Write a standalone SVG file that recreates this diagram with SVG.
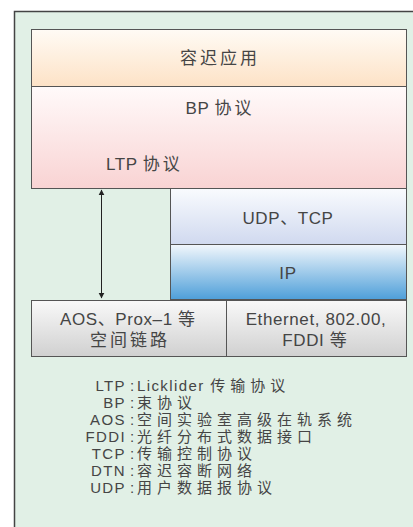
<svg xmlns="http://www.w3.org/2000/svg" width="413" height="527" viewBox="0 0 413 527">
<style>
.t{font-family:"Liberation Sans","Noto Sans CJK SC",sans-serif;font-size:17px;fill:#454545;letter-spacing:0.6px}
.c{letter-spacing:3px}
.l{font-family:"Liberation Sans","Noto Sans CJK SC",sans-serif;font-size:15px;fill:#454545;letter-spacing:1.4px}
.lc{letter-spacing:5px}
.box{stroke:#555;stroke-width:1}
</style>
<defs>
<linearGradient id="gApp" x1="0" y1="0" x2="0" y2="1"><stop offset="0" stop-color="#fffbf5"/><stop offset="1" stop-color="#fde2c6"/></linearGradient>
<linearGradient id="gBP" x1="0" y1="0" x2="0" y2="1"><stop offset="0" stop-color="#fffafa"/><stop offset="1" stop-color="#f9d3d3"/></linearGradient>
<linearGradient id="gUDP" x1="0" y1="0" x2="0" y2="1"><stop offset="0" stop-color="#f9fbfe"/><stop offset="1" stop-color="#d0d9ef"/></linearGradient>
<linearGradient id="gIP" x1="0" y1="0" x2="0" y2="1"><stop offset="0" stop-color="#f2f7fc"/><stop offset="1" stop-color="#4e9fd9"/></linearGradient>
<linearGradient id="gLink" x1="0" y1="0" x2="0" y2="1"><stop offset="0" stop-color="#f9f9f9"/><stop offset="1" stop-color="#d0d0d0"/></linearGradient>
<marker id="ah" viewBox="0 0 10 10" refX="9" refY="5" markerWidth="6" markerHeight="7" orient="auto-start-reverse" markerUnits="userSpaceOnUse"><path d="M0,0 L10,5 L0,10 z" fill="#222"/></marker>
</defs>
<rect x="0" y="0" width="413" height="527" fill="#fff"/>
<rect x="14.5" y="11.5" width="410" height="520" fill="#e1f0e6"/>
<path d="M14.5,530 V11.5 H416" fill="none" stroke="#444" stroke-width="1.5"/>

<g id="app">
<rect class="box" x="31.5" y="29.5" width="375" height="57" fill="url(#gApp)"/>
<text class="t c" x="220" y="64" text-anchor="middle">容迟应用</text>
</g>
<g id="bp">
<rect class="box" x="31.5" y="86.5" width="375" height="102" fill="url(#gBP)"/>
<text class="t" x="220" y="114" text-anchor="middle">BP <tspan class="c">协议</tspan></text>
<text class="t" x="106" y="170">LTP <tspan class="c">协议</tspan></text>
</g>
<g id="udp">
<rect class="box" x="170.5" y="188.5" width="236" height="56" fill="url(#gUDP)"/>
<text class="t" x="288" y="224" text-anchor="middle">UDP、TCP</text>
</g>
<g id="ip">
<rect class="box" x="170.5" y="244.5" width="236" height="55" fill="url(#gIP)"/>
<text class="t" x="288" y="279" text-anchor="middle">IP</text>
</g>
<g id="space-link">
<rect class="box" x="31.5" y="300.5" width="195" height="56" fill="url(#gLink)"/>
<text class="t" x="129" y="325" text-anchor="middle">AOS、Prox–1 <tspan class="c">等</tspan></text>
<text class="t c" x="130" y="346" text-anchor="middle">空间链路</text>
</g>
<g id="ethernet">
<rect class="box" x="226.5" y="300.5" width="180" height="56" fill="url(#gLink)"/>
<text class="t" x="316" y="325" text-anchor="middle">Ethernet, 802.00,</text>
<text class="t" x="316" y="346" text-anchor="middle">FDDI <tspan class="c">等</tspan></text>
</g>
<g id="connectors">
<line x1="101.5" y1="298" x2="101.5" y2="190" stroke="#222" stroke-width="1" marker-start="url(#ah)" marker-end="url(#ah)"/>
</g>
<g id="legend">
<text class="l" x="126" y="391" text-anchor="end">LTP</text><text class="l" x="130" y="391">:</text><text class="l" x="137" y="391">Licklider <tspan class="lc">传输协议</tspan></text>
<text class="l" x="126" y="408" text-anchor="end">BP</text><text class="l" x="130" y="408">:</text><text class="l lc" x="137" y="408">束协议</text>
<text class="l" x="126" y="425" text-anchor="end">AOS</text><text class="l" x="130" y="425">:</text><text class="l lc" x="137" y="425">空间实验室高级在轨系统</text>
<text class="l" x="126" y="442" text-anchor="end">FDDI</text><text class="l" x="130" y="442">:</text><text class="l lc" x="137" y="442">光纤分布式数据接口</text>
<text class="l" x="126" y="459" text-anchor="end">TCP</text><text class="l" x="130" y="459">:</text><text class="l lc" x="137" y="459">传输控制协议</text>
<text class="l" x="126" y="476" text-anchor="end">DTN</text><text class="l" x="130" y="476">:</text><text class="l lc" x="137" y="476">容迟容断网络</text>
<text class="l" x="126" y="493" text-anchor="end">UDP</text><text class="l" x="130" y="493">:</text><text class="l lc" x="137" y="493">用户数据报协议</text>
</g>
</svg>
